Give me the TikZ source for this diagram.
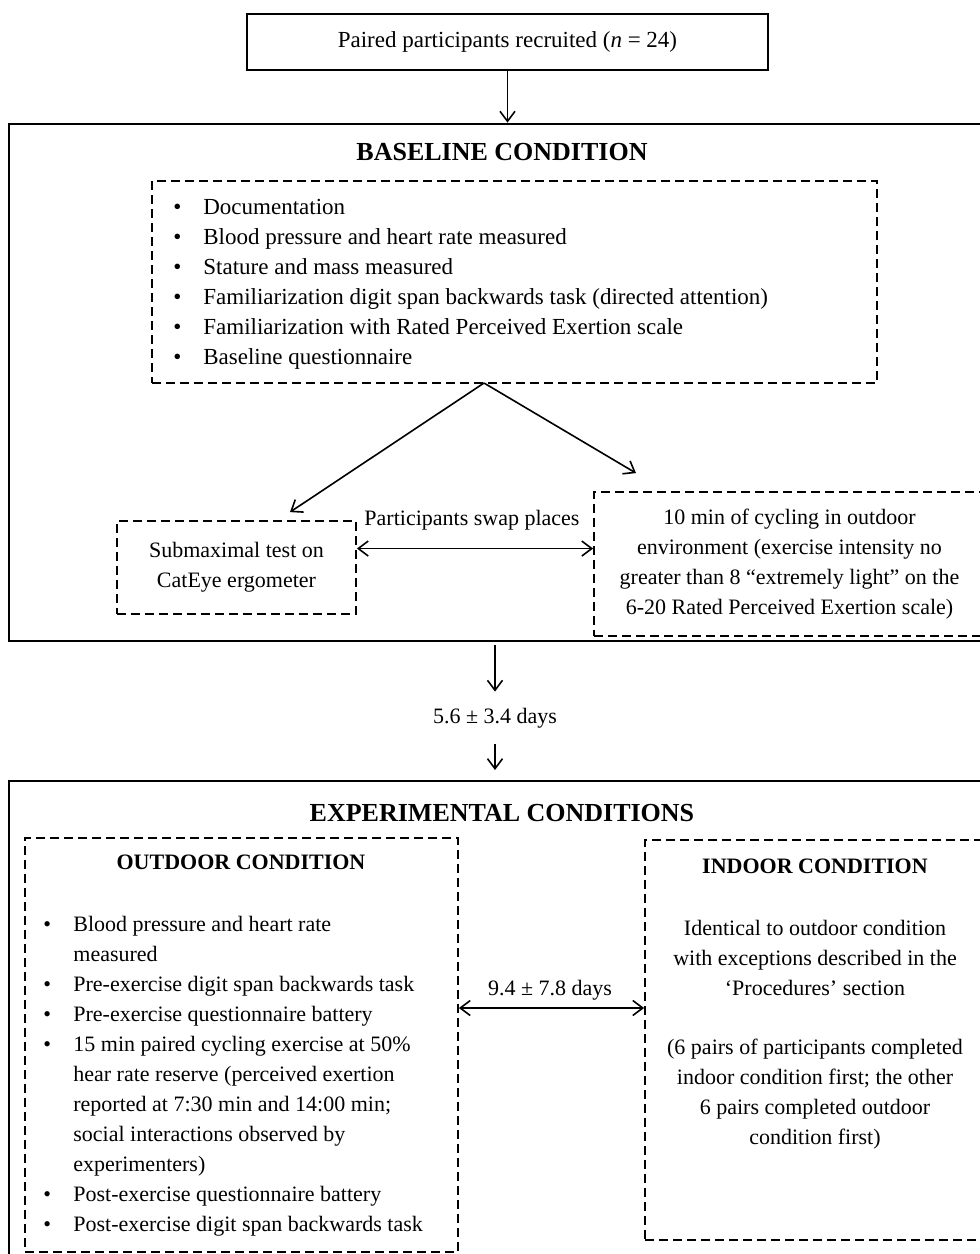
\documentclass[tikz,border=0pt]{standalone}
\usepackage{fontspec}
\setmainfont{Liberation Serif}
\usetikzlibrary{arrows.meta,calc}

\tikzset{
  solidbox/.style={draw, line width=0.8pt, inner sep=0pt},
  outerbox/.style={draw, line width=1.4pt, inner sep=0pt},
  dashbox/.style={draw, dash pattern=on 4.5pt off 2.5pt, line width=0.9pt, inner sep=0pt, align=center},
  txt/.style={font=\fontsize{11}{15}\selectfont, inner sep=0pt},
  bigtxt/.style={font=\fontsize{11.5}{15}\selectfont, inner sep=0pt},
  ttl/.style={font=\fontsize{13}{15}\selectfont\bfseries, inner sep=0pt},
  subttl/.style={font=\fontsize{11}{15}\selectfont\bfseries, inner sep=0pt},
  arr/.style={-{Straight Barb[length=5pt,width=7.5pt]}, line width=0.8pt},
  dblarr/.style={{Straight Barb[length=5pt,width=7.5pt]}-{Straight Barb[length=5pt,width=7.5pt]}, line width=0.8pt},
}
\newcommand{\bul}{\makebox[15pt][l]{\textbullet}}

\begin{document}
\begin{tikzpicture}[x=0.5pt, y=-0.5pt]
\useasboundingbox (0,0) rectangle (980,1254);
\clip (0,0) rectangle (980,1254);

% recruitment
\node[solidbox, bigtxt, minimum width=260.5pt, minimum height=28pt] (recruit) at (507.5,42) {Paired participants recruited (\textit{n} = 24)};

% baseline condition
\node[outerbox, minimum width=493pt, minimum height=258.5pt] (baseline) at (502,382.5) {};
\draw[arr] (recruit.south) -- (recruit.south |- baseline.north);
\node[ttl] (basettl) at (502,152) {BASELINE CONDITION};
\node[dashbox, minimum width=362.5pt, minimum height=101pt] (baselist) at (514.5,282) {};
\node[bigtxt, anchor=west, align=left] (baseitems) at (173,284) {%
\bul Documentation\\
\bul Blood pressure and heart rate measured\\
\bul Stature and mass measured\\
\bul Familiarization digit span backwards task (directed attention)\\
\bul Familiarization with Rated Perceived Exertion scale\\
\bul Baseline questionnaire};
\node[dashbox, txt, minimum width=119.5pt, minimum height=46.5pt] (submax) at (236.5,567.5) {Submaximal test on\\CatEye ergometer};
\node[dashbox, txt, minimum width=195.5pt, minimum height=72pt] (outcycle) at (789.5,564) {10 min of cycling in outdoor\\environment (exercise intensity no\\greater than 8 “extremely light” on the\\6-20 Rated Perceived Exertion scale)};
\node[txt] (swap) at (472,520) {Participants swap places};

\coordinate (split) at (484,383);
\draw[arr] (split) -- ([xshift=26.75pt, yshift=4pt]submax.north);
\draw[arr] (split) -- ([xshift=-76.75pt, yshift=9pt]outcycle.north);
\coordinate (swapL) at ($(submax.north east)!0.3!(submax.south east)$);
\draw[dblarr] (swapL) -- (swapL -| outcycle.west);

% gap between conditions
\node[txt, inner ysep=8pt] (gap1) at (495,718) {5.6 ± 3.4 days};
\draw[arr, shorten <=1.5pt] (gap1.north |- baseline.south) -- (gap1.north);
\draw[arr, shorten >=5.5pt] (gap1.south) -- (gap1.south |- 0,781);

% experimental conditions
\node[outerbox, minimum width=493pt, minimum height=249.5pt] (experiment) at (502,1030.5) {};
\node[ttl] (expttl) at (502,813) {EXPERIMENTAL CONDITIONS};
\node[dashbox, minimum width=216.5pt, minimum height=207pt] (outdoor) at (241.5,1045) {};
\node[subttl] (outttl) at (241,862) {OUTDOOR CONDITION};
\node[txt, anchor=west, align=left] (outitems) at (43,1076) {%
\bul Blood pressure and heart rate\\
\hspace*{15pt}measured\\
\bul Pre-exercise digit span backwards task\\
\bul Pre-exercise questionnaire battery\\
\bul 15 min paired cycling exercise at 50\%\\
\hspace*{15pt}hear rate reserve (perceived exertion\\
\hspace*{15pt}reported at 7:30 min and 14:00 min;\\
\hspace*{15pt}social interactions observed by\\
\hspace*{15pt}experimenters)\\
\bul Post-exercise questionnaire battery\\
\bul Post-exercise digit span backwards task};
\node[dashbox, minimum width=170pt, minimum height=200pt] (indoor) at (815,1040) {};
\node[subttl] (inttl) at (815,866) {INDOOR CONDITION};
\node[txt, align=center] (indesc) at (815,958) {Identical to outdoor condition\\with exceptions described in the\\‘Procedures’ section};
\node[txt, align=center] (inorder) at (815,1094) {(6 pairs of participants completed\\indoor condition first; the other\\6 pairs completed outdoor\\condition first)};

\node[txt] (gap2) at (550,990) {9.4 ± 7.8 days};
\coordinate (gapL) at (outdoor.east |- 0,1008);
\draw[dblarr] (gapL) -- (gapL -| indoor.west);
\end{tikzpicture}
\end{document}
